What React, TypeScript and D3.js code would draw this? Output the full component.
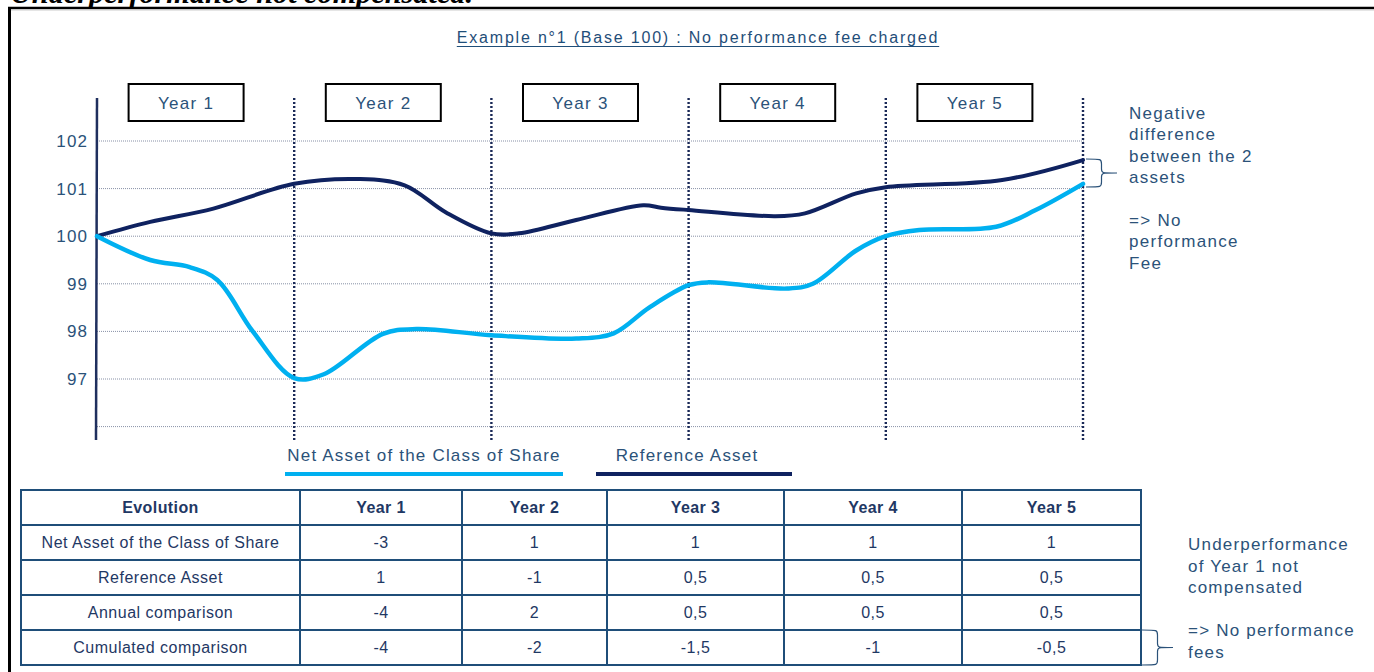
import React, { useEffect, useRef } from 'react'
import * as d3 from 'd3'

// chart values (base 100) as [year, value]
const netAsset: [number, number][] = [
  [0, 100], [0.27, 99.5], [0.47, 99.35], [0.61, 99.08], [0.79, 98.0], [1.0, 97.02],
  [1.15, 97.1], [1.45, 97.95], [1.62, 98.05], [2.0, 97.92], [2.43, 97.85], [2.62, 97.96],
  [2.8, 98.5], [3.0, 98.97], [3.1, 99.03], [3.5, 98.9], [3.63, 99.0], [3.85, 99.7],
  [4.0, 100.0], [4.17, 100.13], [4.56, 100.2], [4.76, 100.55], [5.0, 101.1]
]
const referenceAsset: [number, number][] = [
  [0, 100], [0.27, 100.3], [0.59, 100.58], [1.0, 101.1], [1.33, 101.2], [1.56, 101.07],
  [1.77, 100.5], [2.0, 100.06], [2.14, 100.06], [2.43, 100.34], [2.77, 100.65], [2.86, 100.6],
  [3.0, 100.55], [3.44, 100.42], [3.59, 100.48], [3.85, 100.9], [4.0, 101.03], [4.59, 101.18],
  [5.0, 101.6]
]

const yearLabels = ["Year 1", "Year 2", "Year 3", "Year 4", "Year 5"]
const yTicks = [97, 98, 99, 100, 101, 102]
const gridValues = [96, 97, 98, 99, 100, 101, 102]
const yearBounds = [1, 2, 3, 4, 5]

const seriesNames = ["Net Asset of the Class of Share", "Reference Asset"]

// table
const tableHeader = ["Evolution", ...yearLabels]
const rowLabels = ["Net Asset of the Class of Share", "Reference Asset", "Annual comparison", "Cumulated comparison"]
const netAssetRow = [-3, 1, 1, 1, 1]
const referenceRow = [1, -1, 0.5, 0.5, 0.5]
const annualRow = [-4, 2, 0.5, 0.5, 0.5]
const cumulatedRow = [-4, -2, -1.5, -1, -0.5]

const chartNote = ["Negative", "difference", "between  the 2", "assets", "", "=> No", "performance", "Fee"]
const tableNote = ["Underperformance", "of Year 1 not", "compensated", "", "=> No performance", "fees"]

export default function App() {
  const svgRef = useRef<SVGSVGElement>(null)

  useEffect(() => {
    if (!svgRef.current) return
    const width = 1374
    const height = 672
    const font = "'Liberation Sans', Arial, sans-serif"
    const textBlue = "#2b5279"
    const navy = "#0f2260"
    const lightBlue = "#00b0f0"
    const tableBlue = "#1f4e79"
    const tableText = "#1f3864"

    const svg = d3.select(svgRef.current)
      .attr("width", width)
      .attr("height", height)
      .style("font-family", font)
    svg.selectAll("*").remove()

    // page frame + heading cut by the top edge (as in the source page)
    svg.append("text")
      .attr("x", 10).attr("y", 3)
      .attr("font-family", "'Liberation Serif', serif")
      .attr("font-style", "italic").attr("font-weight", "bold")
      .attr("font-size", 30)
      .attr("textLength", 463).attr("lengthAdjust", "spacingAndGlyphs")
      .text("Underperformance not compensated.")
    svg.append("line").attr("x1", 8).attr("x2", width).attr("y1", 8).attr("y2", 8)
      .attr("stroke", "#000").attr("stroke-width", 2.5)
    svg.append("line").attr("x1", 8).attr("x2", width).attr("y1", 10).attr("y2", 10)
      .attr("stroke", "#ccc").attr("stroke-width", 1)
    svg.append("line").attr("x1", 9.5).attr("x2", 9.5).attr("y1", 7).attr("y2", height)
      .attr("stroke", "#000").attr("stroke-width", 3)

    // title
    const title = svg.append("text")
      .attr("x", 698).attr("y", 43)
      .attr("text-anchor", "middle")
      .attr("font-size", 16)
      .attr("letter-spacing", 1.8)
      .attr("fill", tableBlue)
      .text("Example  n°1 (Base 100) : No performance fee charged")
    const tw = (title.node() as SVGTextElement).getComputedTextLength()
    svg.append("line")
      .attr("x1", 698 - tw / 2).attr("x2", 698 + tw / 2)
      .attr("y1", 46.5).attr("y2", 46.5)
      .attr("stroke", tableBlue).attr("stroke-width", 1)

    const x = d3.scaleLinear().domain([0, 5]).range([97, 1083])
    const y = d3.scaleLinear().domain([97, 102]).range([379, 141])

    // grid
    svg.append("g").selectAll("line")
      .data(gridValues)
      .join("line")
      .attr("x1", x(0)).attr("x2", x(5) + 2)
      .attr("y1", d => y(d)).attr("y2", d => y(d))
      .attr("stroke", "#8790a6").attr("stroke-width", 1)
      .attr("stroke-dasharray", "1,1")

    // year separators
    svg.append("g").selectAll("line")
      .data(yearBounds)
      .join("line")
      .attr("x1", d => x(d)).attr("x2", d => x(d))
      .attr("y1", 98).attr("y2", 442)
      .attr("stroke", "#1a2957").attr("stroke-width", 2.4)
      .attr("stroke-dasharray", "2,2")

    // y axis
    svg.append("line")
      .attr("x1", x(0)).attr("x2", x(0) - 1).attr("y1", 98).attr("y2", 440)
      .attr("stroke", "#1f2f5e").attr("stroke-width", 2.5)
    svg.append("g").selectAll("text")
      .data(yTicks)
      .join("text")
      .attr("x", 88).attr("y", d => y(d) + 6)
      .attr("text-anchor", "end")
      .attr("font-size", 17).attr("letter-spacing", 1.1)
      .attr("fill", textBlue)
      .text(d => d)

    // year boxes
    const boxes = svg.append("g").selectAll("g")
      .data(yearLabels)
      .join("g")
      .attr("transform", (d, i) => `translate(${x(i + 0.5) - 9.5},0)`)
    boxes.append("rect")
      .attr("x", -57.5).attr("y", 84).attr("width", 115).attr("height", 37)
      .attr("fill", "#fff").attr("stroke", "#000").attr("stroke-width", 2)
    boxes.append("text")
      .attr("y", 109).attr("text-anchor", "middle")
      .attr("font-size", 17).attr("letter-spacing", 1.3)
      .attr("fill", textBlue)
      .text(d => d)

    // curves
    const line = d3.line<[number, number]>()
      .x(d => x(d[0])).y(d => y(d[1]))
      .curve(d3.curveCatmullRom.alpha(0.5))
    svg.append("path").attr("d", line(referenceAsset))
      .attr("fill", "none").attr("stroke", navy).attr("stroke-width", 4)
      .attr("stroke-linecap", "round")
    svg.append("path").attr("d", line(netAsset))
      .attr("fill", "none").attr("stroke", lightBlue).attr("stroke-width", 4.5)
      .attr("stroke-linecap", "round")

    // legend
    const legend = [
      { name: seriesNames[0], color: lightBlue, cx: 424, bar: [285, 563] },
      { name: seriesNames[1], color: navy, cx: 687, bar: [596, 792] }
    ]
    svg.append("g").selectAll("text")
      .data(legend)
      .join("text")
      .attr("x", d => d.cx).attr("y", 461)
      .attr("text-anchor", "middle")
      .attr("font-size", 17).attr("letter-spacing", 1.2)
      .attr("fill", textBlue)
      .text(d => d.name)
    svg.append("g").selectAll("rect")
      .data(legend)
      .join("rect")
      .attr("x", d => d.bar[0]).attr("y", 472)
      .attr("width", d => d.bar[1] - d.bar[0]).attr("height", 4)
      .attr("fill", d => d.color)

    // notes + braces
    const brace = (x0: number, y0: number, y1: number, w: number) => {
      const m = (y0 + y1) / 2
      const h = w * 0.5
      return `M${x0},${y0} C${x0 + h},${y0} ${x0 + h},${y0} ${x0 + h},${y0 + 5}` +
        ` L${x0 + h},${m - 4} C${x0 + h},${m} ${x0 + h},${m} ${x0 + w},${m}` +
        ` C${x0 + h},${m} ${x0 + h},${m} ${x0 + h},${m + 4}` +
        ` L${x0 + h},${y1 - 5} C${x0 + h},${y1} ${x0 + h},${y1} ${x0},${y1}`
    }
    svg.append("path").attr("d", brace(1086, 159, 187, 31))
      .attr("fill", "none").attr("stroke", textBlue).attr("stroke-width", 1.2)
    svg.append("path").attr("d", brace(1142, 630, 665, 31))
      .attr("fill", "none").attr("stroke", textBlue).attr("stroke-width", 1.2)

    svg.append("g").selectAll("text")
      .data(chartNote)
      .join("text")
      .attr("x", 1129).attr("y", (d, i) => 119 + i * 21.4)
      .attr("font-size", 17).attr("letter-spacing", 1.3)
      .attr("fill", textBlue)
      .text(d => d)
    svg.append("g").selectAll("text")
      .data(tableNote)
      .join("text")
      .attr("x", 1188).attr("y", (d, i) => 550 + i * 21.6)
      .attr("font-size", 17).attr("letter-spacing", 1.2)
      .attr("fill", textBlue)
      .text(d => d)

    // table
    const colEdges = [21, 300, 462, 607, 784, 962, 1141]
    const rowTop = 490
    const rowH = 35
    const fmt = (v: number) => String(v).replace(".", ",")
    const rows = [netAssetRow, referenceRow, annualRow, cumulatedRow]
      .map((vals, i) => [rowLabels[i], ...vals.map(fmt)])
    const table = svg.append("g")
    table.append("rect")
      .attr("x", colEdges[0]).attr("y", rowTop)
      .attr("width", colEdges[6] - colEdges[0]).attr("height", rowH * 5)
      .attr("fill", "#fff")
    table.selectAll("line.h")
      .data(d3.range(6))
      .join("line")
      .attr("x1", colEdges[0]).attr("x2", colEdges[6])
      .attr("y1", d => rowTop + d * rowH).attr("y2", d => rowTop + d * rowH)
      .attr("stroke", tableBlue).attr("stroke-width", 2)
    table.selectAll("line.v")
      .data(colEdges)
      .join("line")
      .attr("x1", d => d).attr("x2", d => d)
      .attr("y1", rowTop - 1).attr("y2", rowTop + rowH * 5 + 1)
      .attr("stroke", tableBlue).attr("stroke-width", 2)
    const cx = (j: number) => (colEdges[j] + colEdges[j + 1]) / 2
    table.append("g").selectAll("text")
      .data(tableHeader)
      .join("text")
      .attr("x", (d, j) => cx(j)).attr("y", rowTop + rowH / 2 + 5.5)
      .attr("text-anchor", "middle")
      .attr("font-size", 16).attr("font-weight", "bold")
      .attr("letter-spacing", 0.4)
      .attr("fill", tableText)
      .text(d => d)
    rows.forEach((r, i) => {
      table.append("g").selectAll("text")
        .data(r)
        .join("text")
        .attr("x", (d, j) => cx(j)).attr("y", rowTop + rowH * (i + 1) + rowH / 2 + 5.5)
        .attr("text-anchor", "middle")
        .attr("font-size", 16).attr("letter-spacing", 0.5)
        .attr("fill", tableText)
        .text(d => d)
    })
  }, [])

  return (
    <div style={{ position: 'absolute', left: 0, top: 0 }}>
      <svg ref={svgRef} style={{ display: 'block' }}></svg>
    </div>
  )
}
